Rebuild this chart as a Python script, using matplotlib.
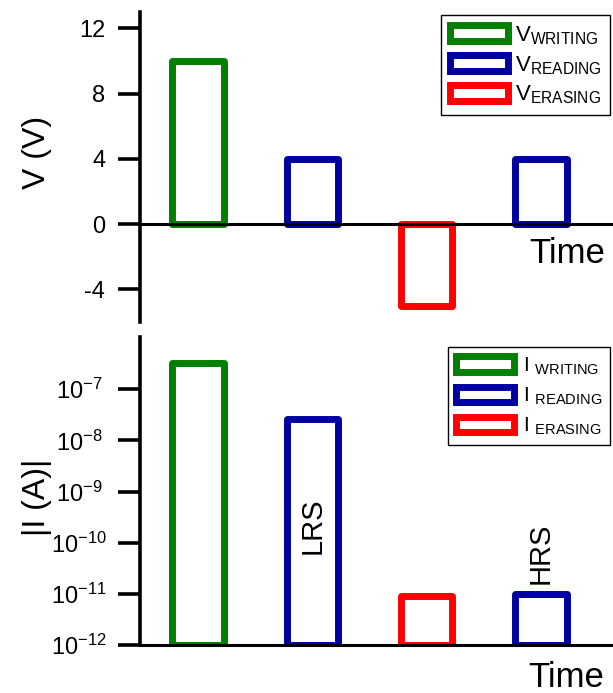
import numpy as np
from matplotlib import pyplot as plt
from matplotlib.patches import Patch
from matplotlib.ticker import FixedLocator, NullLocator, LogFormatterMathtext

plt.rcParams['font.family'] = ['Liberation Sans', 'DejaVu Sans']
plt.rcParams['mathtext.fontset'] = 'custom'
plt.rcParams['mathtext.rm'] = 'Liberation Sans'
plt.rcParams['mathtext.it'] = 'Liberation Sans'
plt.rcParams['mathtext.default'] = 'regular'
plt.rcParams['axes.unicode_minus'] = False

# pulse sequence: write, read, erase, read
pulse_pos = [1, 2, 3, 4]
pulse_kind = ["WRITING", "READING", "ERASING", "READING"]
voltage = [10, 4, -5, 4]
current = [3.3e-7, 2.6e-8, 8.9e-12, 9.8e-12]
state_labels = {2: "LRS", 4: "HRS"}
state_label_y = {2: 2.1e-10, 4: 6.3e-11}

v_ticks = [-4, 0, 4, 8, 12]
i_ticks = [1e-12, 1e-11, 1e-10, 1e-9, 1e-8, 1e-7]

colors = {"WRITING": "#008000", "READING": "#0000a0", "ERASING": "#ff0000"}
legend_order = ["WRITING", "READING", "ERASING"]

I_FLOOR = 1e-12
BAR_W = 0.45
LW = 5


def style_axis(ax):
	for s in ["top", "right"]:
		ax.spines[s].set_visible(False)
	ax.spines["left"].set_linewidth(2.6)
	ax.spines["bottom"].set_linewidth(2.2)
	ax.spines["bottom"].set_zorder(5)
	ax.set_xticks([])
	ax.tick_params(axis="y", direction="out", length=16, width=2.6, labelsize=17)
	ax.set_xlim(0.493, 4.63)


def main():
	fig = plt.figure(figsize=(6.13, 6.93), dpi=100)
	ax_v = fig.add_axes([0.2284, 0.5353, 0.7716, 0.4474])
	ax_i = fig.add_axes([0.2284, 0.0693, 0.7716, 0.4444])

	# voltage pulses
	for x, v, k in zip(pulse_pos, voltage, pulse_kind):
		ax_v.bar(x, v, width=BAR_W, fill=False, edgecolor=colors[k],
				 linewidth=LW, joinstyle="round", zorder=2)
	style_axis(ax_v)
	ax_v.spines["bottom"].set_position(("data", 0))
	ax_v.set_ylim(-6, 13)
	ax_v.yaxis.set_major_locator(FixedLocator(v_ticks))
	ax_v.tick_params(axis="y", pad=9)
	ax_v.set_ylabel("V (V)", fontsize=23)
	ax_v.yaxis.set_label_coords(-0.186, 0.548)
	ax_v.text(0.903, 0.2226, "Time", transform=ax_v.transAxes, fontsize=25,
			  ha="center", va="center")

	handles = [Patch(facecolor="white", edgecolor=colors[k], linewidth=LW, joinstyle="round")
			   for k in legend_order]
	leg = ax_v.legend(handles, [r"V$_{\mathrm{%s}}$" % k for k in legend_order],
					  loc="upper right", bbox_to_anchor=(0.994, 0.99), borderaxespad=0,
					  fontsize=16, handlelength=2.6, handleheight=0.75, handletextpad=0.3,
					  labelspacing=0.33, borderpad=0.4, fancybox=False, edgecolor="black",
					  framealpha=1)
	leg.get_frame().set_linewidth(1.0)

	# current response
	for x, c, k in zip(pulse_pos, current, pulse_kind):
		ax_i.bar(x, c - I_FLOOR, bottom=I_FLOOR, width=BAR_W, fill=False,
				 edgecolor=colors[k], linewidth=LW, joinstyle="round", zorder=2)
	style_axis(ax_i)
	ax_i.set_yscale("log")
	ax_i.set_ylim(I_FLOOR, 1.05e-6)
	ax_i.yaxis.set_major_locator(FixedLocator(i_ticks))
	ax_i.yaxis.set_minor_locator(NullLocator())
	ax_i.yaxis.set_major_formatter(LogFormatterMathtext())
	for lab in ax_i.get_yticklabels():
		lab.set_horizontalalignment("center")
	ax_i.tick_params(axis="y", pad=28)
	ax_i.set_ylabel("|I (A)|", fontsize=23)
	ax_i.yaxis.set_label_coords(-0.186, 0.48)
	ax_i.text(0.901, -0.107, "Time", transform=ax_i.transAxes, fontsize=25,
			  ha="center", va="center", clip_on=False)
	for x, s in state_labels.items():
		ax_i.text(x, state_label_y[x], s, rotation=90, fontsize=21, ha="center", va="center")

	handles = [Patch(facecolor="white", edgecolor=colors[k], linewidth=LW, joinstyle="round")
			   for k in legend_order]
	leg = ax_i.legend(handles, [r"I $_{\mathrm{%s}}$" % k for k in legend_order],
					  loc="upper right", bbox_to_anchor=(0.994, 0.9675), borderaxespad=0,
					  fontsize=15, handlelength=2.8, handleheight=0.75, handletextpad=0.4,
					  labelspacing=0.42, borderpad=0.4, fancybox=False, edgecolor="black",
					  framealpha=1)
	leg.get_frame().set_linewidth(1.0)

	fig.savefig("out.png", dpi=100)


if __name__ == "__main__":
	main()
